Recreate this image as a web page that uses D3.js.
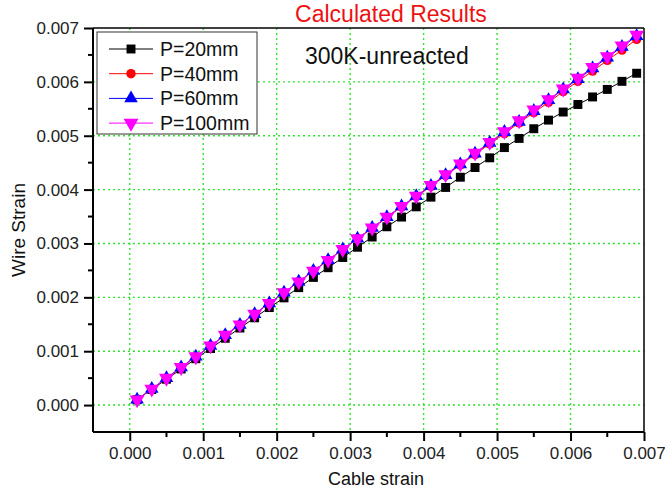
<!DOCTYPE html>
<html>
<head>
<meta charset="utf-8">
<script src="https://cdn.jsdelivr.net/npm/d3@7"></script>
<style>
  body { margin: 0; background: #fff; }
  svg text { font-family: "Liberation Sans", Arial, sans-serif; }
</style>
</head>
<body>
<svg id="chart" width="665" height="492"></svg>
<script>
// cable strain (x) for every series
var cableStrain = [0.0001, 0.0003, 0.0005, 0.0007, 0.0009, 0.0011, 0.0013, 0.0015, 0.0017, 0.0019,
  0.0021, 0.0023, 0.0025, 0.0027, 0.0029, 0.0031, 0.0033, 0.0035, 0.0037, 0.0039,
  0.0041, 0.0043, 0.0045, 0.0047, 0.0049, 0.0051, 0.0053, 0.0055, 0.0057, 0.0059,
  0.0061, 0.0063, 0.0065, 0.0067, 0.0069];

var wireP20 = [0.0001, 0.00029, 0.00048, 0.00067, 0.00086, 0.00105, 0.00124, 0.00143, 0.00162, 0.00181,
  0.00199, 0.00218, 0.00237, 0.00255, 0.00274, 0.00293, 0.00312, 0.00331, 0.00349, 0.00368,
  0.00386, 0.00404, 0.00423, 0.00441, 0.00459, 0.00478, 0.00495, 0.00513, 0.00529, 0.00544,
  0.00558, 0.00572, 0.00586, 0.00601, 0.00616];

var wireP40 = [0.0001, 0.0003, 0.0005, 0.0007, 0.0009, 0.0011, 0.0013, 0.00149, 0.00169, 0.00189,
  0.00209, 0.00229, 0.00249, 0.00269, 0.00289, 0.00309, 0.00328, 0.00348, 0.00368, 0.00387,
  0.00406, 0.00426, 0.00446, 0.00465, 0.00485, 0.00504, 0.00524, 0.00543, 0.00562, 0.00582,
  0.00601, 0.0062, 0.0064, 0.00659, 0.00679];

var wireP60 = [0.0001, 0.0003, 0.0005, 0.0007, 0.0009, 0.0011, 0.0013, 0.00149, 0.00169, 0.00189,
  0.00209, 0.00229, 0.00249, 0.00269, 0.00289, 0.00309, 0.00329, 0.00349, 0.00369, 0.00388,
  0.00407, 0.00427, 0.00447, 0.00467, 0.00487, 0.00507, 0.00526, 0.00546, 0.00566, 0.00586,
  0.00605, 0.00625, 0.00645, 0.00665, 0.00685];

var wireP100 = [0.0001, 0.0003, 0.0005, 0.0007, 0.0009, 0.0011, 0.0013, 0.00149, 0.00169, 0.00189,
  0.00209, 0.00229, 0.00249, 0.00269, 0.00289, 0.00309, 0.00329, 0.00349, 0.00369, 0.00388,
  0.00408, 0.00428, 0.00448, 0.00468, 0.00488, 0.00508, 0.00528, 0.00548, 0.00567, 0.00587,
  0.00607, 0.00627, 0.00647, 0.00667, 0.00687];

var seriesNames = ["P=20mm", "P=40mm", "P=60mm", "P=100mm"];
var majorTicks = [0, 0.001, 0.002, 0.003, 0.004, 0.005, 0.006, 0.007];
var minorTicks = [0.0005, 0.0015, 0.0025, 0.0035, 0.0045, 0.0055, 0.0065];

var series = [
  { name: seriesNames[0], values: wireP20, color: "#000000", symbol: d3.symbolSquare, size: 80, rot: 0 },
  { name: seriesNames[1], values: wireP40, color: "#ff0000", symbol: d3.symbolCircle, size: 70, rot: 0 },
  { name: seriesNames[2], values: wireP60, color: "#0000ff", symbol: d3.symbolTriangle, size: 80, rot: 0 },
  { name: seriesNames[3], values: wireP100, color: "#ff00ff", symbol: d3.symbolTriangle, size: 95, rot: 180 }
];

var svg = d3.select("#chart");
var plotLeft = 93, plotRight = 644, plotTop = 28, plotBottom = 432;

var x = d3.scaleLinear().domain([-0.0005, 0.007]).range([plotLeft, plotRight]);
var y = d3.scaleLinear().domain([-0.0005, 0.007]).range([plotBottom, plotTop]);

// grid
var grid = svg.append("g")
  .attr("stroke", "#2ee62e")
  .attr("stroke-width", 1.4)
  .attr("stroke-dasharray", "2,3");
grid.selectAll(".vg").data(majorTicks.slice(0, 7)).enter().append("line")
  .attr("x1", function (d) { return x(d); }).attr("x2", function (d) { return x(d); })
  .attr("y1", plotTop).attr("y2", plotBottom);
grid.selectAll(".hg").data(majorTicks.slice(0, 7)).enter().append("line")
  .attr("y1", function (d) { return y(d); }).attr("y2", function (d) { return y(d); })
  .attr("x1", plotLeft).attr("x2", plotRight);

// frame
svg.append("line").attr("x1", plotLeft).attr("x2", plotRight).attr("y1", plotTop).attr("y2", plotTop)
  .attr("stroke", "#000").attr("stroke-width", 1.5);
svg.append("line").attr("x1", plotRight).attr("x2", plotRight).attr("y1", plotTop).attr("y2", plotBottom)
  .attr("stroke", "#000").attr("stroke-width", 1.5);

// axes
var xAxis = svg.append("g")
  .attr("transform", "translate(0," + plotBottom + ")")
  .call(d3.axisBottom(x).tickValues(majorTicks).tickFormat(d3.format(".3f")).tickSize(9).tickPadding(6));
xAxis.append("g").selectAll("line").data(minorTicks).enter().append("line")
  .attr("x1", function (d) { return x(d); }).attr("x2", function (d) { return x(d); })
  .attr("y1", 0).attr("y2", 5).attr("stroke", "#000").attr("stroke-width", 2);

var yAxis = svg.append("g")
  .attr("transform", "translate(" + plotLeft + ",0)")
  .call(d3.axisLeft(y).tickValues(majorTicks).tickFormat(d3.format(".3f")).tickSize(9).tickPadding(5));
yAxis.append("g").selectAll("line").data(minorTicks).enter().append("line")
  .attr("y1", function (d) { return y(d); }).attr("y2", function (d) { return y(d); })
  .attr("x1", 0).attr("x2", -5).attr("stroke", "#000").attr("stroke-width", 2);

[xAxis, yAxis].forEach(function (a) {
  a.select(".domain").attr("stroke-width", 2);
  a.selectAll(".tick line").attr("stroke-width", 2);
  a.selectAll(".tick text").style("font-size", "17px").attr("fill", "#222");
});
xAxis.select(".domain").attr("d", "M" + plotLeft + ",0H" + plotRight);
yAxis.select(".domain").attr("d", "M0," + plotTop + "V" + plotBottom);

// series lines and markers
var line = d3.line()
  .x(function (d, i) { return x(cableStrain[i]); })
  .y(function (d) { return y(d); });

series.forEach(function (s) {
  svg.append("path")
    .attr("d", line(s.values))
    .attr("fill", "none")
    .attr("stroke", s.color)
    .attr("stroke-width", 1);
});

series.forEach(function (s) {
  svg.append("g").selectAll("path").data(s.values).enter().append("path")
    .attr("d", d3.symbol().type(s.symbol).size(s.size))
    .attr("transform", function (d, i) {
      return "translate(" + x(cableStrain[i]) + "," + y(d) + ") rotate(" + s.rot + ")";
    })
    .attr("fill", s.color);
});

// legend
var legend = svg.append("g");
legend.append("rect")
  .attr("x", 97).attr("y", 32).attr("width", 160).attr("height", 102)
  .attr("fill", "#fff").attr("stroke", "#333").attr("stroke-width", 1);
series.forEach(function (s, i) {
  var ly = 49 + i * 24.7;
  legend.append("line").attr("x1", 109).attr("x2", 153).attr("y1", ly).attr("y2", ly)
    .attr("stroke", s.color).attr("stroke-width", 1);
  legend.append("path")
    .attr("d", d3.symbol().type(s.symbol).size(s.size))
    .attr("transform", "translate(131," + ly + ") rotate(" + s.rot + ")")
    .attr("fill", s.color);
  legend.append("text").attr("x", 160).attr("y", ly + 7)
    .style("font-size", "19.5px").attr("fill", "#111").text(s.name);
});

// texts
svg.append("text").attr("x", 391).attr("y", 22).attr("text-anchor", "middle")
  .style("font-size", "23px").attr("fill", "#ee1111").text("Calculated Results");
svg.append("text").attr("x", 305).attr("y", 64)
  .style("font-size", "23px").attr("fill", "#111").text("300K-unreacted");
svg.append("text").attr("x", 376).attr("y", 485).attr("text-anchor", "middle")
  .style("font-size", "18px").attr("fill", "#111").text("Cable strain");
svg.append("text").attr("transform", "translate(25,230) rotate(-90)").attr("text-anchor", "middle")
  .style("font-size", "19px").attr("fill", "#111").text("Wire Strain");
</script>
</body>
</html>
